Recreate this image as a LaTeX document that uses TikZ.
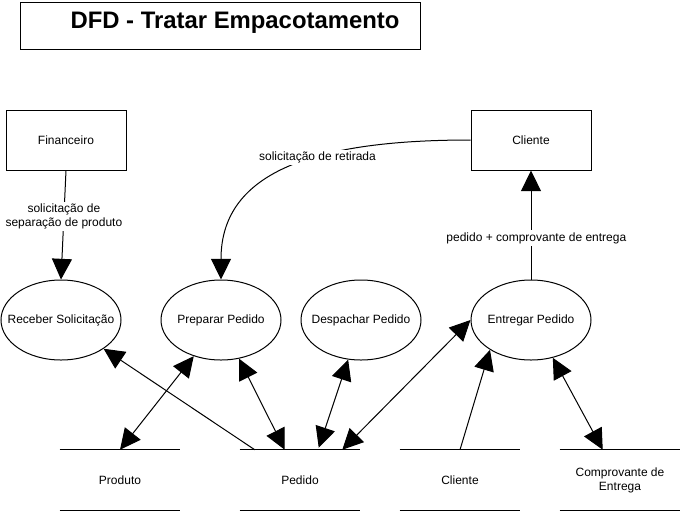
\documentclass[tikz,border=0pt]{standalone}
\usepackage{fontspec}
\setmainfont{Liberation Sans}
\usetikzlibrary{arrows.meta,shapes.geometric,calc}
\begin{document}
\begin{tikzpicture}[x=0.75pt,y=-0.75pt,
  every node/.style={font=\fontsize{9pt}{10.5pt}\selectfont, inner sep=0pt},
  extent/.style={draw, line width=0.75pt, minimum width=90pt, minimum height=45pt},
  proc/.style={draw, ellipse, line width=0.75pt, minimum width=90pt, minimum height=60pt},
  store/.style={minimum width=90pt, minimum height=45pt, align=center},
  storeline/.style={line width=0.75pt},
  flow/.style={line width=0.75pt, -{Triangle[length=15.5pt,width=15pt]}},
  biflow/.style={line width=0.75pt, {Triangle[length=15.5pt,width=15pt]}-{Triangle[length=15.5pt,width=15pt]}},
  lbl/.style={fill=white, align=center, inner sep=1.5pt}]
\useasboundingbox (0,0) rectangle (681,511);

% title
\node[draw, line width=0.75pt, minimum width=300pt, minimum height=35.25pt] (titlebox) at (220,25.5) {};
\node[anchor=base, font=\bfseries\fontsize{17.9pt}{21pt}\selectfont] (title) at (235,28.3) {DFD - Tratar Empacotamento};

% external entities
\node[extent] (fin) at (66,140) {Financeiro};
\node[extent] (cli) at (531,140) {Cliente};

% processes
\node[proc] (rec) at (61,320) {\makebox[0pt]{Receber Solicitação}};
\node[proc] (prep) at (221,320) {\makebox[0pt]{Preparar Pedido}};
\node[proc] (desp) at (361,320) {\makebox[0pt]{Despachar Pedido}};
\node[proc] (entr) at (531,320) {\makebox[0pt]{Entregar Pedido}};

% data stores
\node[store] (sprod) at (120,480) {Produto};
\node[store] (sped) at (300,480) {Pedido};
\node[store] (scli) at (460,480) {Cliente};
\node[store] (scomp) at (620,480) {Comprovante de\\Entrega};
\foreach \s in {sprod,sped,scli,scomp}{
  \draw[storeline] (\s.north west) -- (\s.north east) (\s.south west) -- (\s.south east);
}

% flows
\draw[flow] (fin.south) -- node[lbl, pos=0.42] (lfin) {solicitação de\\separação de produto} (rec.north);
\draw[flow] (cli.west) .. controls ($(cli.west)+(-151,0)$) and ($(prep.north)+(0,-110)$) .. node[lbl, pos=0.4] (lcli) {solicitação de retirada} (prep.north);
\draw[flow] (entr.north) -- node[lbl, pos=0.38, xshift=4pt] (lentr) {pedido + comprovante de entrega} (cli.south);

\draw[flow] ($(sped.north west)+(15,0)$) -- (rec.-34);
\draw[biflow] (sprod.north) -- (prep.-127);
\draw[biflow] ($(sped.north west)+(45,0)$) -- (prep.-65);
\draw[biflow] ($(sped.north west)+(79,-2)$) -- (desp.-108);
\draw[biflow] ($(sped.north east)+(-18,0)$) -- (entr.west);
\draw[flow] (scli.north) -- (entr.-144);
\draw[biflow] ($(scomp.north west)+(43,0)$) -- (entr.-60);
\end{tikzpicture}
\end{document}
